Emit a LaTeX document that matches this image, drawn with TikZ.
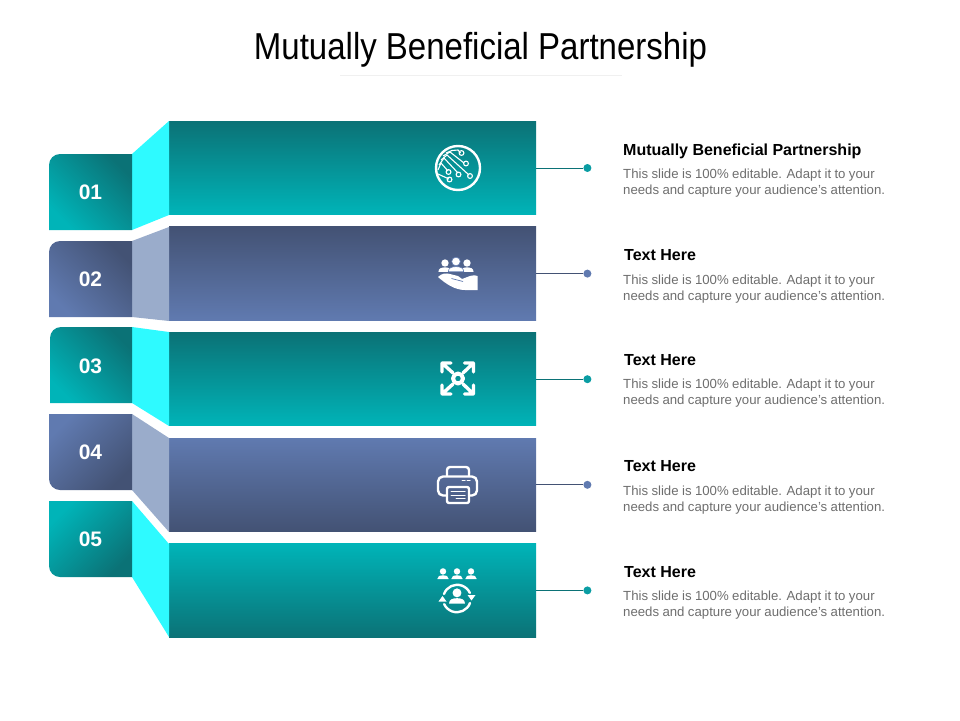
\documentclass[tikz,border=0pt]{standalone}
\usepackage{fontspec}
\setmainfont{Liberation Sans}
\newfontfamily\titlefont[FakeStretch=0.88]{Liberation Sans}
\usetikzlibrary{positioning}

\definecolor{tealdark}{HTML}{0B7276}
\definecolor{teallight}{HTML}{00B4B8}
\definecolor{tealside}{HTML}{2EFAFF}
\definecolor{tealdot}{HTML}{0A9DA3}
\definecolor{bluedark}{HTML}{435274}
\definecolor{bluelight}{HTML}{607AB0}
\definecolor{blueside}{HTML}{9AACCB}
\definecolor{bodygrey}{HTML}{6E6E6E}

\begin{document}
\begin{tikzpicture}[x=1pt, y=-1pt, on grid, node distance=105.6pt,
	bar/.style={minimum width=367pt, minimum height=93.5pt, inner sep=0pt},
	tealup/.style={bar, top color=tealdark, bottom color=teallight},
	tealdown/.style={bar, top color=teallight, bottom color=tealdark},
	blueup/.style={bar, top color=bluedark, bottom color=bluelight},
	bluedown/.style={bar, top color=bluelight, bottom color=bluedark},
	dot/.style={circle, inner sep=0pt, minimum size=8pt},
	num/.style={text=white, font=\fontsize{21}{21}\selectfont\bfseries},
	head/.style={anchor=west, inner sep=0pt, font=\fontsize{16}{16}\selectfont\bfseries},
	copy/.style={anchor=west, inner sep=0pt, align=left, text=bodygrey,
		font=\fontsize{13.2}{16}\selectfont\spaceskip 3.4pt plus 1pt\relax},
	icon/.style={draw=white, line width=2.4pt, line cap=round, line join=round},
	thin icon/.style={draw=white, line width=1.1pt},
	person/.pic={
		\path[fill=white] (0,-2.6) circle (3.2pt);
		\path[fill=white] (-5.7,5) .. controls (-5.7,2) and (-3,1.2) .. (0,1.2) .. controls (3,1.2) and (5.7,2) .. (5.7,5) -- cycle;
	}]
	\useasboundingbox (0,0) rectangle (960,720);

	% title
	\node (title) at (480.5,50) {\titlefont\fontsize{37.5}{37.5}\selectfont Mutually Beneficial Partnership};
	\coordinate (ruleleft) at (340,75);
	\coordinate (ruleright) at (622,75);
	\draw[black!6, line width=0.5pt] (ruleleft) -- (ruleright);

	% bars
	\node[tealup] (bar1) at (352.5,168) {};
	\node[blueup] (bar2) [below=of bar1] {};
	\node[tealup] (bar3) [below=of bar2] {};
	\node[bluedown] (bar4) [below=of bar3] {};
	\node[tealdown] (bar5) [below=of bar4] {};

	% side faces
	\fill[tealside] (132,154) -- (169,121) -- (169,215) -- (132,230) -- cycle;
	\fill[blueside] (132,241) -- (169,227) -- (169,321) -- (132,317) -- cycle;
	\fill[tealside] (132,327) -- (169,332) -- (169,426) -- (132,403) -- cycle;
	\fill[blueside] (132,414) -- (169,438) -- (169,532) -- (132,490) -- cycle;
	\fill[tealside] (132,501) -- (169,544) -- (169,637) -- (132,577) -- cycle;

	% tabs
	\shade[top color=tealdark, bottom color=teallight, shading angle=-45]
		(49,230) [rounded corners=11pt] -- (49,154) [sharp corners] -- (132,154) -- (132,230) -- cycle;
	\shade[top color=bluedark, bottom color=bluelight, shading angle=-45]
		(49,317) [rounded corners=11pt] -- (49,241) [sharp corners] -- (132,241) -- (132,317) -- cycle;
	\shade[top color=tealdark, bottom color=teallight, shading angle=-45]
		(50,403) [rounded corners=11pt] -- (50,327) [sharp corners] -- (132,327) -- (132,403) -- cycle;
	\shade[top color=bluelight, bottom color=bluedark, shading angle=45]
		(49,414) [rounded corners=11pt] -- (49,490) [sharp corners] -- (132,490) -- (132,414) -- cycle;
	\shade[top color=teallight, bottom color=tealdark, shading angle=45]
		(49,501) [rounded corners=11pt] -- (49,577) [sharp corners] -- (132,577) -- (132,501) -- cycle;
	\node[num] (num1) at (90.5,192.5) {01};
	\node[num] (num2) at (90.5,279.5) {02};
	\node[num] (num3) at (90.5,366.5) {03};
	\node[num] (num4) at (90.5,452.5) {04};
	\node[num] (num5) at (90.5,539.5) {05};

	% dots and leaders
	\node[dot, fill=tealdot] (dot1) [right=47pt of bar1.east] {};
	\node[dot, fill=bluelight] (dot2) [right=47pt of bar2.east] {};
	\node[dot, fill=tealdot] (dot3) [right=47pt of bar3.east] {};
	\node[dot, fill=bluelight] (dot4) [right=47pt of bar4.east] {};
	\node[dot, fill=tealdot] (dot5) [right=47pt of bar5.east] {};
	\draw[tealdark, line width=0.8pt] (bar1.east) -- (dot1);
	\draw[bluedark, line width=0.8pt] (bar2.east) -- (dot2);
	\draw[tealdark, line width=0.8pt] (bar3.east) -- (dot3);
	\draw[bluedark, line width=0.8pt] (bar4.east) -- (dot4);
	\draw[tealdark, line width=0.8pt] (bar5.east) -- (dot5);

	% texts
	\node[head] (head1) at (623,151) {Mutually Beneficial Partnership};
	\node[copy] (copy1) at (623,183) {This slide is 100\% editable. Adapt it to your\\needs and capture your audience's attention.};
	\node[head] (head2) at (624,255.5) {Text Here};
	\node[copy] (copy2) at (623,289) {This slide is 100\% editable. Adapt it to your\\needs and capture your audience's attention.};
	\node[head] (head3) at (624,360.5) {Text Here};
	\node[copy] (copy3) at (623,393) {This slide is 100\% editable. Adapt it to your\\needs and capture your audience's attention.};
	\node[head] (head4) at (624,466.5) {Text Here};
	\node[copy] (copy4) at (623,500) {This slide is 100\% editable. Adapt it to your\\needs and capture your audience's attention.};
	\node[head] (head5) at (624,572.5) {Text Here};
	\node[copy] (copy5) at (623,605) {This slide is 100\% editable. Adapt it to your\\needs and capture your audience's attention.};

	% icon 1: circuit
	\draw[icon] (458,168) circle (22pt);
	\draw[thin icon] (446,153) -- (452,150.5) -- (458,150) -- (460.5,153);
	\draw[thin icon] (443,156) -- (450,152) -- (464,163);
	\draw[thin icon] (441,160) -- (447,155) -- (469,175);
	\draw[thin icon] (439,165) -- (444,158) -- (458,173);
	\draw[thin icon] (438,170) -- (441,163) -- (448,171);
	\draw[thin icon] (438,174) -- (449,179);
	\draw[thin icon] (461.5,153) circle (2.4pt) (466,163.5) circle (2.4pt) (470,176) circle (2.4pt)
		(458.5,174.5) circle (2.4pt) (448.5,172) circle (2.4pt) (449.5,179.5) circle (2.4pt);

	% icon 2: hand and people
	\pic[scale=1.15] at (445,266) {person};
	\pic[scale=1.15] at (467,266) {person};
	\pic[scale=1.35, every path/.style={draw=bluelight, line width=0.6pt}] at (456,265) {person};
	\fill[white] (438,277) .. controls (442,273) and (446,273) .. (450,274) -- (458,276)
		-- (462,279) -- (470,276) .. controls (473,275) and (476,275) .. (477.5,276) -- (477.5,290) -- (465,290)
		.. controls (455,290) and (446,284) .. cycle;
	\draw[bluelight, line width=0.7pt] (451.5,278.5) -- (463,281.5);

	% icon 3: arrows
	\draw[icon, line width=4pt] (458,378.5) circle (5pt);
	\draw[icon, line width=3.4pt] (453,373) -- (442,363) (442,372) -- (442,363) -- (451,363);
	\draw[icon, line width=3.4pt] (463,373) -- (473.5,363) (464.5,363) -- (473.5,363) -- (473.5,372);
	\draw[icon, line width=3.4pt] (453,384) -- (442,394) (442,385) -- (442,394) -- (451,394);
	\draw[icon, line width=3.4pt] (463,384) -- (473.5,394) (464.5,394) -- (473.5,394) -- (473.5,385);

	% icon 4: printer
	\draw[icon, rounded corners=5pt] (446,495.5) -- (438,495.5) -- (438,476.5) -- (477,476.5) -- (477,495.5) -- (470,495.5);
	\draw[icon, rounded corners=3pt] (447,476) -- (447,467) -- (469,467) -- (469,476);
	\draw[icon, rounded corners=2pt] (447,487) rectangle (469,503);
	\draw[icon, line width=1pt] (451,491.5) -- (465,491.5) (451,495) -- (465,495) (456,498.5) -- (465,498.5) (462,480.5) -- (465,480.5) (467,480.5) -- (470,480.5);

	% icon 5: team cycle
	\pic at (443,574) {person};
	\pic at (457,574) {person};
	\pic at (471,574) {person};
	\pic[scale=1.4] at (457,596.5) {person};
	\draw[icon] (444,594) arc (160:25:14pt);
	\draw[icon] (470,603) arc (-20:-155:14pt);
	\fill[white] (467.5,595) -- (475.5,595) -- (471.5,600.5) -- cycle;
	\fill[white] (438.5,601.5) -- (446.5,601.5) -- (442.5,596) -- cycle;
\end{tikzpicture}
\end{document}
